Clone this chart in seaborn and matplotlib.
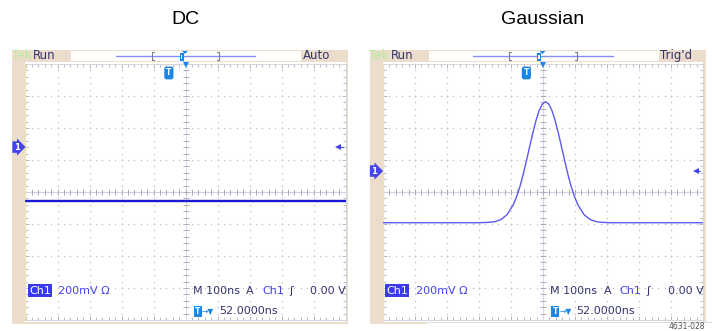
import numpy as np
import matplotlib
matplotlib.use("Agg")
import matplotlib.pyplot as plt
import matplotlib.transforms as mtransforms
import seaborn as sns
from matplotlib.patches import Rectangle, Polygon
from matplotlib.lines import Line2D

# ---------------- data ----------------
titles = ["DC", "Gaussian"]
mode_labels = ["Auto", "Trig'd"]
dc_time_ns = [-500, 500]
dc_mv = [-56, -56]
gauss_time_ns = [-500, -200, -172, -152, -132, -112, -92, -82, -72, -62, -52, -42, -32,
                 -22, -12, -2, 8, 18, 28, 38, 48, 58, 68, 78, 88, 98, 108, 128, 148,
                 168, 188, 208, 500]
gauss_mv = [-192, -192, -190, -186, -173, -141, -76, -27, 35, 109, 193, 281, 368,
            446, 509, 550, 564, 550, 509, 446, 368, 281, 193, 109, 35, -27, -76, -141,
            -173, -186, -190, -192, -192]
ground_level_mv = [281, 131]
trigger_time_ns = -52
scale_label = "200mV \u03a9"
timebase_label = "M 100ns"
source_label = "Ch1"
trigger_level_label = "0.00 V"
trigger_pos_label = "52.0000ns"
figure_id = "4631-028"

# ---------------- styling ----------------
W, H = 712, 331
sns.set_style("white")
plt.rcParams['font.family'] = ['DejaVu Sans']
fig = plt.figure(figsize=(W / 100, H / 100), dpi=100)
fig.patch.set_facecolor("white")

BEIGE = "#ecdccb"
NAVY = "#34346e"
BLUE = "#4444ee"
CYAN = "#1c86e6"
GRID = "#bcbcc8"
TICK = "#acacbe"


def fx(x):
    return x / W


def fy(y):
    return 1 - y / H


def frect(x0, y0, x1, y1, color, z=-5, ec='none', lw=0):
    fig.add_artist(Rectangle((fx(x0), fy(y1)), (x1 - x0) / W, (y1 - y0) / H,
                             transform=fig.transFigure, facecolor=color,
                             edgecolor=ec, linewidth=lw, zorder=z))


def ftext(x, y, s, color=NAVY, size=8, ha='left', va='center', **kw):
    fig.text(fx(x), fy(y), s, color=color, fontsize=size, ha=ha, va=va,
             family=['DejaVu Sans'], zorder=6, **kw)


def fline(xs, ys, color, lw=1.0, z=3):
    fig.add_artist(Line2D([fx(x) for x in xs], [fy(y) for y in ys],
                          transform=fig.transFigure, color=color, lw=lw, zorder=z))


def fpoly(pts, color, z=4):
    fig.add_artist(Polygon([(fx(x), fy(y)) for x, y in pts], closed=True,
                           transform=fig.transFigure, facecolor=color,
                           edgecolor='none', zorder=z))


offsets = [0.0, 357.5]
traces = [(dc_time_ns, dc_mv, "#1a1ad2", 1.7), (gauss_time_ns, gauss_mv, "#5a5af2", 1.0)]

for i, off in enumerate(offsets):
    # title
    fig.text(fx(185.5 + off), fy(20), titles[i], ha='center', va='center',
             fontsize=14, family=['Liberation Sans'], color='black')

    # instrument frame
    frect(12 + off, 50, 348 + off, 324, BEIGE, z=-10)
    frect(25 + off, 61.5, 345.5 + off, 322, "white", z=-9)
    frect(71 + off, 51, 301 + off, 60.5, "white", z=-9)

    # top status bar
    ftext(11.5 + off, 55.5, "Tek", color="#b4ee98", size=8.5)
    ftext(33 + off, 55.5, "Run", color=NAVY, size=8.5)
    ftext(303 + off, 55.5, mode_labels[i], color=NAVY, size=8.5)
    fline([116 + off, 255 + off], [56, 56], "#8a8af2", lw=1.0)
    for bx, d in [(151.5, 1), (219, -1)]:
        fline([bx + off + 2 * d, bx + off, bx + off, bx + off + 2 * d], [52, 52, 60, 60], "#7a7a94", lw=0.8)
    frect(179.5 + off, 53, 183.5 + off, 60.5, CYAN, z=4)
    frect(180.7 + off, 55, 182.3 + off, 59, "white", z=5)
    fpoly([(182 + off, 51), (188 + off, 51), (185 + off, 54)], CYAN, z=5)

    # graticule axes
    ax = fig.add_axes([fx(25.5 + off), fy(320), 320 / W, 256 / H])
    ax.set_facecolor('none')
    ax.set_xlim(-500, 500)
    ax.set_ylim(-800, 800)
    ax.set_xticks(np.arange(-500, 501, 100))
    ax.set_xticks(np.arange(-500, 501, 20), minor=True)
    ax.set_yticks(np.arange(-800, 801, 200))
    ax.set_yticks(np.arange(-800, 801, 40), minor=True)
    ax.tick_params(which='both', direction='in', top=True, right=True, bottom=True,
                   left=True, labelbottom=False, labelleft=False, color=TICK, width=0.6)
    ax.tick_params(which='major', length=3)
    ax.tick_params(which='minor', length=2.2)
    for name, sp in ax.spines.items():
        sp.set_color("#d4d4dc")
        sp.set_linewidth(0.7)
    ax.spines['left'].set_color("#ece4b4")
    ax.spines['left'].set_linewidth(1.0)

    # dotted grid lines
    for gx in range(-400, 401, 100):
        if gx == 0:
            continue
        ys = np.arange(-760, 761, 40)
        ax.plot(np.full(len(ys), gx), ys, ls='none', marker='s', ms=0.9, mew=0,
                color=GRID, zorder=1)
    for gy in range(-600, 601, 200):
        if gy == 0:
            continue
        xs = np.arange(-480, 481, 20)
        ax.plot(xs, np.full(len(xs), gy), ls='none', marker='s', ms=0.9, mew=0,
                color=GRID, zorder=1)
    # centre cross
    ax.axhline(0, color="#d2d2e2", lw=0.9, zorder=1)
    ax.axvline(0, color="#d8d8e6", lw=0.8, zorder=1)
    cx = np.arange(-480, 481, 20)
    ax.plot(cx, np.zeros(len(cx)), ls='none', marker='|', ms=4.5, mew=0.7, color=TICK, zorder=1)
    cy = np.arange(-760, 761, 40)
    ax.plot(np.zeros(len(cy)), cy, ls='none', marker='_', ms=4.0, mew=0.7, color=TICK, zorder=1)

    # waveform
    tx, ty, tc, tw = traces[i]
    sns.lineplot(x=tx, y=ty, ax=ax, color=tc, linewidth=tw, estimator=None,
                 sort=False, zorder=3)

    # markers tied to data
    blend_xa = mtransforms.blended_transform_factory(ax.transData, ax.transAxes)
    blend_ax = mtransforms.blended_transform_factory(ax.transAxes, ax.transData)
    ax.text(trigger_time_ns, 0.965, "T", transform=blend_xa, ha='center', va='center',
            color='white', fontsize=5.5, fontweight='bold', zorder=5,
            bbox=dict(boxstyle='round,pad=0.25,rounding_size=0.3', fc=CYAN, ec='none'))
    ax.plot(0, 794, marker='v', ms=5, color=CYAN, mew=0, clip_on=False, zorder=5)
    ax.text(-0.028, ground_level_mv[i], "1", transform=blend_ax, ha='center',
            va='center', color='white', fontsize=6, fontweight='bold', zorder=6,
            bbox=dict(boxstyle='rarrow,pad=0.15', fc=BLUE, ec='none'))
    ax.plot(478, ground_level_mv[i], marker='<', ms=4, color=BLUE, mew=0, clip_on=False, zorder=5)
    ax.plot([478, 492], [ground_level_mv[i]] * 2, color=BLUE, lw=0.8, zorder=5)

    # readouts
    ftext(29 + off, 290.5, source_label, color='white',
          bbox=dict(boxstyle='square,pad=0.1', fc="#3a3aee", ec='none'))
    ftext(58 + off, 290.5, scale_label, color=BLUE)
    ftext(193 + off, 290.5, timebase_label, color=NAVY)
    ftext(246 + off, 290.5, "A", color=NAVY)
    ftext(262 + off, 290.5, source_label, color=BLUE)
    ftext(289 + off, 290.5, "\u0283", color=NAVY)
    ftext(310 + off, 290.5, trigger_level_label, color=NAVY)
    ftext(195 + off, 311.5, "T", color='white', size=5.5, fontweight='bold',
          bbox=dict(boxstyle='square,pad=0.15', fc=CYAN, ec='none'))
    ftext(202 + off, 311.5, "\u2192\u25bc", color=CYAN, size=5.5)
    ftext(219 + off, 311.5, trigger_pos_label, color=NAVY)

frect(427, 321.5, 712, 331, "white", z=-8)
fline([427, 712], [322, 322], "#d8d8d8", lw=0.6, z=-7)
ftext(669, 326.5, figure_id, color="#505050", size=5.5)

fig.savefig("out.png", dpi=100, facecolor="white")
